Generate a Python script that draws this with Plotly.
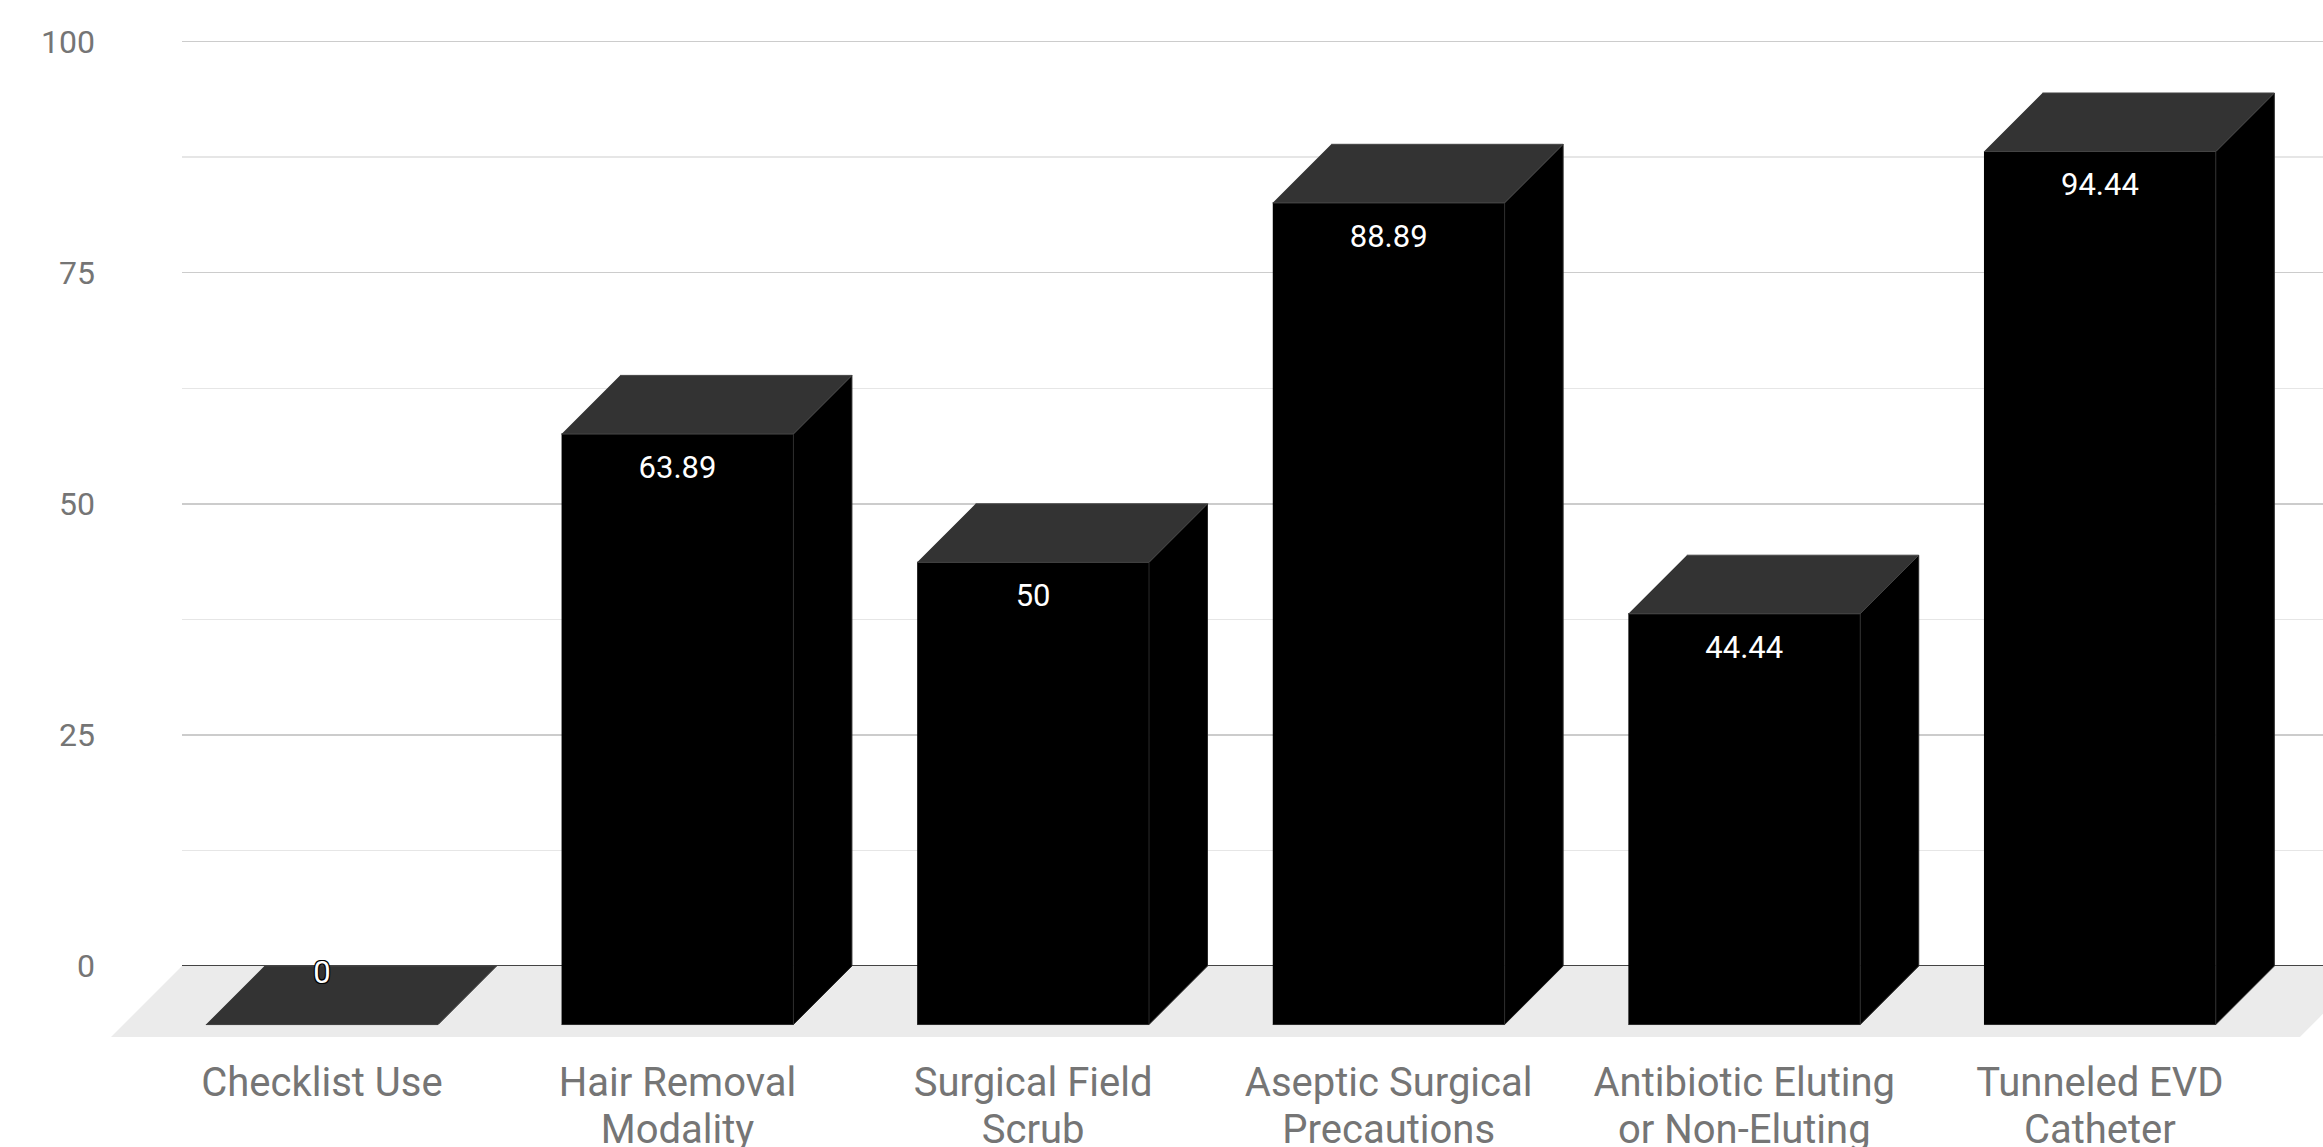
import plotly.graph_objects as go

# ---- data ----
categories_line1 = ["Checklist Use", "Hair Removal", "Surgical Field", "Aseptic Surgical",
                    "Antibiotic Eluting", "Tunneled EVD"]
categories_line2 = ["", "Modality", "Scrub", "Precautions", "or Non-Eluting", "Catheter"]
values = [0, 63.89, 50, 88.89, 44.44, 94.44]
value_labels = ["0", "63.89", "50", "88.89", "44.44", "94.44"]
y_ticks = [0, 25, 50, 75, 100]
y_minor = [12.5, 37.5, 62.5, 87.5]

# ---- geometry (axis units) ----
W, H = 2323, 1147
HW = 0.326      # half width of bar front face (category units)
DX = 0.1645     # 3D depth offset in x (category units)
DY = 6.33       # 3D depth offset in y (value units)
FDX, FDY = 0.1997, 7.68   # floor depth
FLOOR_X0, FLOOR_X1 = -0.3934, 5.762
XR = [-0.9052, 5.6274]
YR = [-8.546, 104.5]

n = len(values)
xs = list(range(n))

def poly(pts_list):
    X, Y = [], []
    for pts in pts_list:
        for px, py in pts:
            X.append(px); Y.append(py)
        X.append(None); Y.append(None)
    return X, Y

fronts, tops, sides = [], [], []
for i, v in zip(xs, values):
    l, r = i - HW, i + HW
    fronts.append([(l, -DY), (r, -DY), (r, v - DY), (l, v - DY)])
    tops.append([(l, v - DY), (r, v - DY), (r + DX, v), (l + DX, v)])
    sides.append([(r, -DY), (r + DX, 0), (r + DX, v), (r, v - DY)])

fig = go.Figure()

# dummy traces so every axis is drawn
fig.add_trace(go.Scatter(x=[0.5], y=[50], mode="markers", marker=dict(opacity=0),
                         hoverinfo="skip", showlegend=False, xaxis="x", yaxis="y"))
fig.add_trace(go.Scatter(x=[0], y=[50], mode="markers", marker=dict(opacity=0),
                         hoverinfo="skip", showlegend=False, xaxis="x3", yaxis="y2"))

# floor
fx, fy = poly([[(FLOOR_X0, 0), (FLOOR_X1, 0), (FLOOR_X1 - FDX, -FDY), (FLOOR_X0 - FDX, -FDY)]])
fig.add_trace(go.Scatter(x=fx, y=fy, fill="toself", fillcolor="#ebebeb", mode="lines",
                         line=dict(width=0, color="#ebebeb"), hoverinfo="skip",
                         showlegend=False, xaxis="x2", yaxis="y2"))

for faces, fill, lc in [(sides, "#000000", "#2a2a2a"), (fronts, "#000000", "#2a2a2a"),
                        (tops, "#333333", "#444444")]:
    X, Y = poly(faces)
    fig.add_trace(go.Scatter(x=X, y=Y, fill="toself", fillcolor=fill, mode="lines",
                             line=dict(width=1, color=lc), hoverinfo="skip",
                             showlegend=False, xaxis="x2", yaxis="y2"))

lab_y = [v - DY - 3.9 if v > 5 else v - 1.0 for v in values]
fig.add_trace(go.Scatter(
    x=xs, y=lab_y, mode="text", text=value_labels,
    textfont=dict(family="Roboto", size=31, color="#ffffff",
                  shadow="1px 1px 0 #000, -1px -1px 0 #000, 1px -1px 0 #000, -1px 1px 0 #000, 0 1px 0 #000, 0 -1px 0 #000"),
    hoverinfo="skip", showlegend=False, xaxis="x2", yaxis="y2"))

left_frac = 182 / W
cat_font = dict(family="Roboto", size=40, color="#757575")
fig.update_layout(
    template="none",
    width=W, height=H,
    margin=dict(l=0, r=0, t=0, b=102, pad=0),
    paper_bgcolor="white", plot_bgcolor="rgba(0,0,0,0)",
    showlegend=False,
    xaxis=dict(domain=[left_frac, 1], range=[0, 1], visible=False, fixedrange=True,
               automargin=False),
    yaxis=dict(domain=[0, 1], range=YR, anchor="x", automargin=False,
               tickvals=y_ticks, ticktext=[str(t) for t in y_ticks],
               showgrid=True, gridcolor="#cccccc", gridwidth=1.5,
               minor=dict(tickvals=y_minor, showgrid=True, gridcolor="#e6e6e6", gridwidth=1.5),
               zeroline=True, zerolinecolor="#444444", zerolinewidth=2.5,
               showline=False, ticks="", ticklabelstandoff=86,
               tickfont=dict(family="Roboto", size=32, color="#757575")),
    xaxis2=dict(domain=[0, 1], range=XR, anchor="y2", automargin=False,
                tickmode="array", tickvals=xs, ticktext=categories_line1,
                showgrid=False, zeroline=False, showline=False, ticks="",
                ticklabelstandoff=10, tickfont=cat_font),
    xaxis3=dict(domain=[0, 1], range=XR, anchor="y2", overlaying="x2", side="bottom",
                automargin=False,
                tickmode="array", tickvals=xs, ticktext=categories_line2,
                showgrid=False, zeroline=False, showline=False, ticks="",
                ticklabelstandoff=57, tickfont=cat_font),
    yaxis2=dict(domain=[0, 1], range=YR, anchor="x2", visible=False, automargin=False),
)

fig.write_html("out.html", config={"displayModeBar": False, "staticPlot": True})
